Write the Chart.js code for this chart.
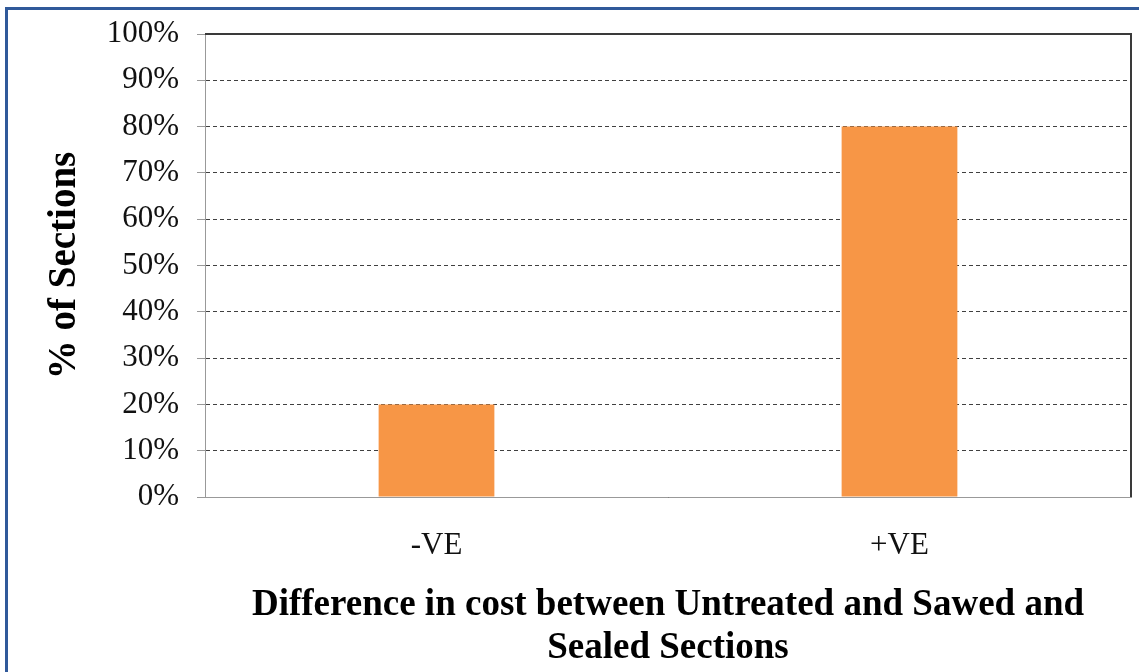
<!DOCTYPE html>
<html>
<head>
<meta charset="utf-8">
<script src="https://cdn.jsdelivr.net/npm/chart.js@4.4.1/dist/chart.umd.min.js"></script>
<style>
html,body{margin:0;padding:0;background:#fff;}
#wrap{position:relative;width:1139px;height:672px;overflow:hidden;}
#frame{position:absolute;left:5px;top:7px;width:1200px;height:800px;border-top:3px solid #30599a;border-left:3px solid #30599a;}
#c{position:absolute;left:0;top:0;}
</style>
</head>
<body>
<div id="wrap">
<div id="frame"></div>
<canvas id="c" width="1139" height="672"></canvas>
</div>
<script>
const categories=["-VE","+VE"];
const shares=[0.20,0.80];
const yTicks=[0,0.1,0.2,0.3,0.4,0.5,0.6,0.7,0.8,0.9,1];

const serif="'Liberation Serif','Times New Roman',serif";

// top and right edges of the plot box
const plotFrame={
id:"plotFrame",
afterDraw(chart){
const a=chart.chartArea,ctx=chart.ctx;
ctx.save();
ctx.strokeStyle="#3a3a3a";
ctx.lineWidth=2;
ctx.beginPath();
ctx.moveTo(a.left,a.top);
ctx.lineTo(a.right,a.top);
ctx.lineTo(a.right,a.bottom);
ctx.stroke();
ctx.restore();
}
};

new Chart(document.getElementById("c"),{
type:"bar",
data:{
labels:categories,
datasets:[{data:shares,backgroundColor:"#f79646",barPercentage:0.25,categoryPercentage:1}]
},
options:{
responsive:false,
animation:false,
layout:{padding:{left:42,top:34,right:8,bottom:2}},
plugins:{
legend:{display:false},
tooltip:{enabled:false}
},
scales:{
x:{
grid:{display:false,drawTicks:false},
border:{display:true,color:"#999",width:1},
ticks:{color:"#111",font:{family:serif,size:31},padding:30},
title:{display:true,
text:["Difference in cost between Untreated and Sawed and","Sealed Sections"],
color:"#000",font:{family:serif,size:37,weight:"bold",lineHeight:1.16},padding:0},
afterFit(s){s.height=173;}
},
y:{
min:0,max:1,
afterBuildTicks(s){s.ticks=yTicks.map(v=>({value:v}));},
afterFit(s){s.width=163;},
grid:{color:"#404040",lineWidth:1,tickLength:8,tickColor:"#999"},
border:{display:true,color:"#999",width:1,dash:[4,3]},
ticks:{color:"#111",font:{family:serif,size:31,lineHeight:1},padding:18,
callback:v=>Math.round(v*100)+"%"},
title:{display:true,text:"% of Sections",color:"#000",
font:{family:serif,size:39,weight:"bold"},padding:0}
}
}
},
plugins:[plotFrame]
});
</script>
</body>
</html>
